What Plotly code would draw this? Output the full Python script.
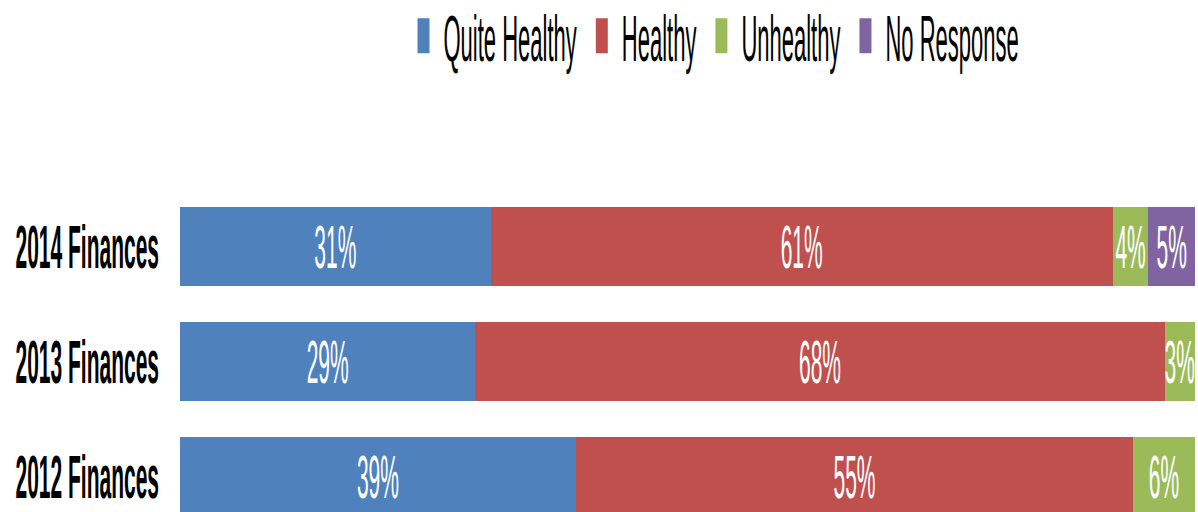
import plotly.graph_objects as go

categories = ["2012 Finances", "2013 Finances", "2014 Finances"]
series_names = ["Quite Healthy", "Healthy", "Unhealthy", "No Response"]
quite_healthy = [39.0, 29.1, 30.6]
healthy = [54.9, 67.9, 61.3]
unhealthy = [6.1, 3.0, 3.5]
no_response = [None, None, 4.6]
quite_labels = ["39%", "29%", "31%"]
healthy_labels = ["55%", "68%", "61%"]
unhealthy_labels = ["6%", "3%", "4%"]
no_response_labels = ["", "", "5%"]
colors = ["#4F81BD", "#C0504D", "#9BBB59", "#8064A2"]

FONT = "Liberation Sans, Arial, sans-serif"
S = 512 / 176.0  # vertical stretch of the whole picture

fig = go.Figure()
for name, vals, labels, col in zip(
    series_names,
    [quite_healthy, healthy, unhealthy, no_response],
    [quite_labels, healthy_labels, unhealthy_labels, no_response_labels],
    colors,
):
    fig.add_trace(go.Bar(
        y=categories, x=vals, name=name, orientation="h",
        marker=dict(color=col, line=dict(width=0)),
        text=labels, textposition="inside", insidetextanchor="middle",
        textangle=0, constraintext="none",
        textfont=dict(family=FONT, size=21, color="white"),
        hoverinfo="skip",
    ))

fig.update_layout(
    barmode="stack", bargap=0.312,
    width=1198, height=176,
    margin=dict(l=180, r=3, t=50, b=0),
    paper_bgcolor="white", plot_bgcolor="white",
    font=dict(family=FONT, color="black"),
    showlegend=True,
    legend=dict(
        orientation="h", xref="container", yref="container",
        x=0.596, xanchor="center", y=0.929, yanchor="middle",
        font=dict(family=FONT, size=22, color="black"),
        bgcolor="rgba(0,0,0,0)", traceorder="normal",
    ),
    xaxis=dict(range=[0, 100], visible=False, fixedrange=True),
    yaxis=dict(
        type="category", range=[-0.309, 2.878], showgrid=False,
        zeroline=False, showline=False, ticks="", ticklabelstandoff=20,
        tickfont=dict(family=FONT, size=21, color="black", weight="bold"),
        fixedrange=True,
    ),
)

post = (
    "document.body.style.margin='0';"
    "var gd=document.getElementById('{plot_id}');"
    "gd.style.transformOrigin='0 0';"
    "gd.style.transform='scaleY(%.5f)';" % S
)
fig.write_html("out.html", post_script=post, config={"displayModeBar": False})
